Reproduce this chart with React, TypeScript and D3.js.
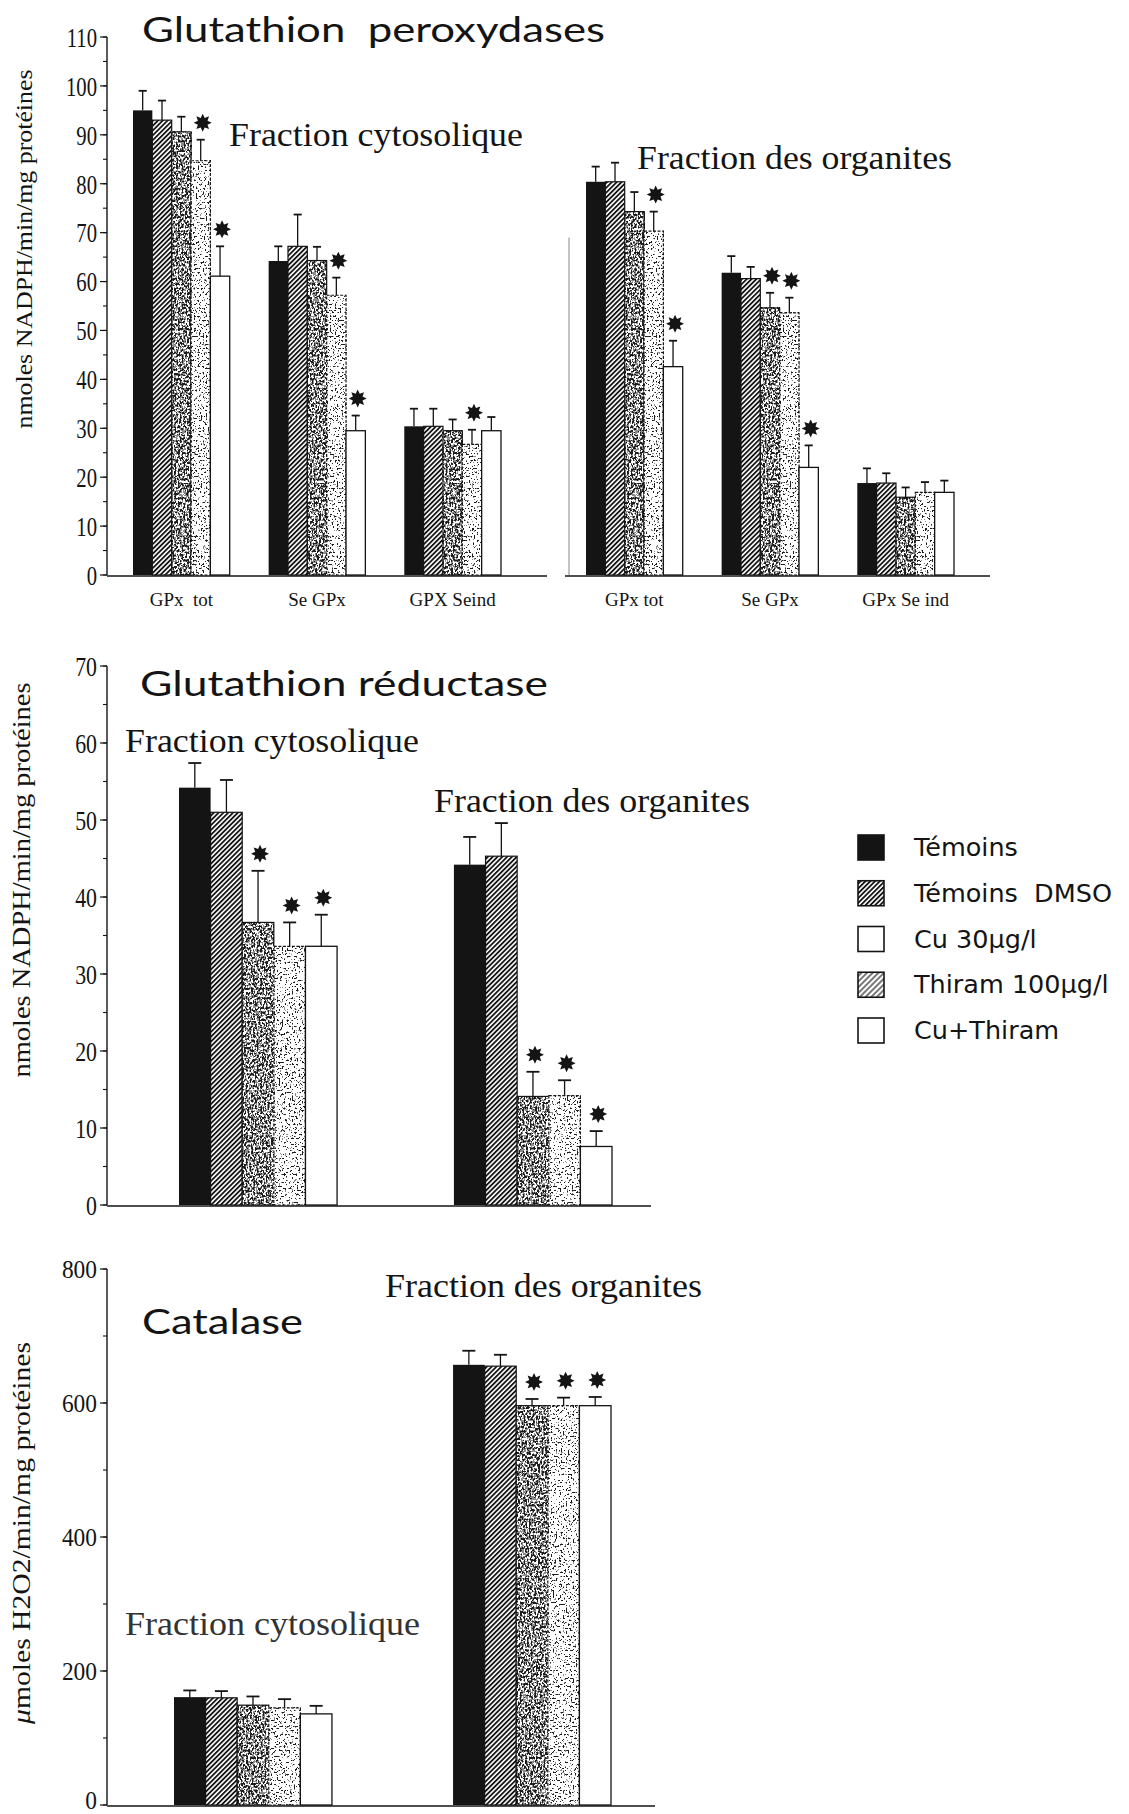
import React from "react";
import * as d3 from "d3";

// ---------- DATA ----------
const series = ["Témoins", "Témoins  DMSO", "Cu 30μg/l", "Thiram 100μg/l", "Cu+Thiram"];

// Glutathion peroxydases (nmoles NADPH/min/mg protéines)
const gpxCytoCats = ["GPx  tot", "Se GPx", "GPX Seind"];
const gpxOrgCats = ["GPx tot", "Se GPx", "GPx Se ind"];
const gpxCytoMean = [
  [95, 93, 90.6, 84.7, 61.1],
  [64.2, 67.2, 64.3, 57.2, 29.5],
  [30.4, 30.4, 29.5, 26.7, 29.5],
];
const gpxCytoErr = [
  [4, 4, 3.1, 4.3, 6.1],
  [3, 6.5, 2.8, 3.6, 3.1],
  [3.6, 3.6, 2.3, 3, 2.8],
];
const gpxCytoSig = [
  [0, 0, 0, 1, 1],
  [0, 0, 0, 1, 1],
  [0, 0, 0, 1, 0],
];
const gpxOrgMean = [
  [80.4, 80.4, 74.3, 70.3, 42.6],
  [61.8, 60.6, 54.6, 53.6, 22],
  [18.8, 18.8, 15.9, 16.9, 16.9],
];
const gpxOrgErr = [
  [3.1, 3.9, 4, 4, 5.3],
  [3.4, 2.4, 3.1, 3.1, 4.5],
  [3, 2, 2, 2.1, 2.4],
];
const gpxOrgSig = [
  [0, 0, 0, 1, 1],
  [0, 0, 1, 1, 1],
  [0, 0, 0, 0, 0],
];

// Glutathion réductase
const fractions = ["cyto", "org"];
const grMean = [
  [54.2, 51.0, 36.7, 33.6, 33.6],
  [44.2, 45.3, 14.1, 14.2, 7.6],
];
const grErr = [
  [3.2, 4.2, 6.7, 3.1, 4.1],
  [3.6, 4.3, 3.2, 2.0, 2.0],
];
const grSig = [
  [0, 0, 1, 1, 1],
  [0, 0, 1, 1, 1],
];

// Catalase (µmoles H2O2/min/mg protéines)
const catMean = [
  [161, 160, 149, 145, 136],
  [657, 655, 596, 596, 596],
];
const catErr = [
  [10, 10, 13, 13, 12],
  [21, 17, 10, 12, 13],
];
const catSig = [
  [0, 0, 0, 0, 0],
  [0, 0, 1, 1, 1],
];

// ---------- LAYOUT ----------
const W = 1129;
const H = 1814;
const AX = 107;
const SERIF = "'Liberation Serif', 'Times New Roman', serif";
const SANS = "Lato, 'Noto Sans', sans-serif";
const LEG = "'DejaVu Sans', sans-serif";
const INK = "#141414";

const starPath = (() => {
  const pts = d3.range(16).map((i) => [(i * Math.PI) / 8, i % 2 === 0 ? 9 : 5.2] as [number, number]);
  return d3.lineRadial().curve(d3.curveLinearClosed)(pts) as string;
})();

function tableValues(darkUntil: number, midAt: number, n = 20) {
  return d3
    .range(n)
    .map((i) => (i < darkUntil ? 0.12 : i < midAt ? 0.55 : 1))
    .join(" ");
}

function Defs() {
  const dense = tableValues(9, 11);
  const light = tableValues(7, 8);
  return (
    <defs>
      <pattern id="hatch" width="3.4" height="3.4" patternUnits="userSpaceOnUse" patternTransform="rotate(45)">
        <rect width="3.4" height="3.4" fill="white" />
        <line x1="0.9" y1="0" x2="0.9" y2="3.4" stroke={INK} strokeWidth="1.8" />
      </pattern>
      <pattern id="hatchLight" width="4" height="4" patternUnits="userSpaceOnUse" patternTransform="rotate(45)">
        <rect width="4" height="4" fill="white" />
        <line x1="1" y1="0" x2="1" y2="4" stroke="#555" strokeWidth="1.6" />
      </pattern>
      <filter id="speckDense" x="0" y="0" width="1" height="1" colorInterpolationFilters="sRGB">
        <feTurbulence type="fractalNoise" baseFrequency="0.55 0.42" numOctaves={2} seed={4} result="t" />
        <feColorMatrix in="t" type="matrix" values="1 0 0 0 0  1 0 0 0 0  1 0 0 0 0  0 0 0 0 1" result="g" />
        <feComponentTransfer in="g">
          <feFuncR type="discrete" tableValues={dense} />
          <feFuncG type="discrete" tableValues={dense} />
          <feFuncB type="discrete" tableValues={dense} />
        </feComponentTransfer>
      </filter>
      <filter id="speckLight" x="0" y="0" width="1" height="1" colorInterpolationFilters="sRGB">
        <feTurbulence type="fractalNoise" baseFrequency="0.6 0.5" numOctaves={2} seed={11} result="t" />
        <feColorMatrix in="t" type="matrix" values="1 0 0 0 0  1 0 0 0 0  1 0 0 0 0  0 0 0 0 1" result="g" />
        <feComponentTransfer in="g">
          <feFuncR type="discrete" tableValues={light} />
          <feFuncG type="discrete" tableValues={light} />
          <feFuncB type="discrete" tableValues={light} />
        </feComponentTransfer>
      </filter>
    </defs>
  );
}

function Bar({ x, y, w, h, s }: { x: number; y: number; w: number; h: number; s: number }) {
  if (s === 0) return <rect x={x} y={y} width={w} height={h} fill={INK} />;
  if (s === 1)
    return <rect x={x} y={y} width={w} height={h} fill="url(#hatch)" stroke={INK} strokeWidth={1.2} />;
  if (s === 2 || s === 3)
    return (
      <g>
        <rect x={x} y={y} width={w} height={h} fill="white" filter={`url(#${s === 2 ? "speckDense" : "speckLight"})`} />
        <rect x={x} y={y} width={w} height={h} fill="none" stroke={INK} strokeWidth={1.2} strokeDasharray={s === 3 ? "3 1.5" : undefined} />
      </g>
    );
  return <rect x={x} y={y} width={w} height={h} fill="white" stroke={INK} strokeWidth={1.3} />;
}

function Groups({
  cats,
  means,
  errs,
  sigs,
  range,
  pad,
  y,
}: {
  cats: string[];
  means: number[][];
  errs: number[][];
  sigs: number[][];
  range: [number, number];
  pad: number;
  y: d3.ScaleLinear<number, number>;
}) {
  const gx = d3.scaleBand<string>().domain(cats).range(range).paddingInner(pad).paddingOuter(0);
  const sx = d3.scaleBand<number>().domain(d3.range(series.length)).range([0, gx.bandwidth()]).padding(0);
  const bw = sx.bandwidth();
  const cap = Math.min(13, bw * 0.42);
  return (
    <g>
      {cats.map((c, gi) => (
        <g key={c + gi} transform={`translate(${gx(c)},0)`}>
          {means[gi].map((v, si) => {
            const x0 = sx(si) as number;
            const cx = x0 + bw / 2;
            const top = y(v);
            const et = y(v + errs[gi][si]);
            return (
              <g key={si}>
                <Bar x={x0} y={top} w={bw} h={y(0) - top} s={si} />
                <line x1={cx} x2={cx} y1={top} y2={et} stroke={INK} strokeWidth={1.3} />
                <line x1={cx - cap / 2} x2={cx + cap / 2} y1={et} y2={et} stroke={INK} strokeWidth={1.8} />
                {sigs[gi][si] ? <path d={starPath} transform={`translate(${cx + 2},${et - 17})`} fill={INK} /> : null}
              </g>
            );
          })}
        </g>
      ))}
    </g>
  );
}

function YAxis({
  y,
  major,
  minor,
  x0,
  x1,
  fs,
  sx,
  ldy = 0,
}: {
  y: d3.ScaleLinear<number, number>;
  major: number;
  minor: number;
  x0: number;
  x1: number;
  fs: number;
  sx: number;
  ldy?: number;
}) {
  const [d0, d1] = y.domain();
  return (
    <g>
      <line x1={AX} x2={AX} y1={y(d0)} y2={y(d1)} stroke={INK} strokeWidth={1.4} />
      <line x1={x0} x2={x1} y1={y(0) + 1} y2={y(0) + 1} stroke={INK} strokeWidth={1.6} />
      {y.ticks(minor).map((t) => (
        <line key={"m" + t} x1={AX - 4} x2={AX} y1={y(t)} y2={y(t)} stroke={INK} strokeWidth={1.1} />
      ))}
      {y.ticks(major).map((t) => (
        <g key={"M" + t}>
          <line x1={AX - 7} x2={AX} y1={y(t)} y2={y(t)} stroke={INK} strokeWidth={1.2} />
          <text
            transform={`translate(${AX - 10},${y(t) + (t === 0 ? ldy : 0)}) scale(${sx},1)`}
            dy="0.35em"
            textAnchor="end"
            fontFamily={SERIF}
            fontSize={fs}
            fill={INK}
          >
            {t}
          </text>
        </g>
      ))}
    </g>
  );
}

export default function App() {
  // Panel 1: Glutathion peroxydases
  const y1 = d3.scaleLinear().domain([0, 110]).range([575, 37]);
  const gxL = d3.scaleBand<string>().domain(gpxCytoCats).range([133, 501]).paddingInner(0.287);
  const gxR = d3.scaleBand<string>().domain(gpxOrgCats).range([586, 954]).paddingInner(0.287);
  // Panel 2: Glutathion réductase
  const y2 = d3.scaleLinear().domain([0, 70]).range([1205, 666]);
  // Panel 3: Catalase
  const y3 = d3.scaleLinear().domain([0, 800]).range([1805, 1269]);
  const legY = d3.scaleLinear().domain([0, series.length - 1]).range([847, 1030]);

  return (
    <svg
      width={W}
      height={H}
      viewBox={`0 0 ${W} ${H}`}
      style={{ position: "absolute", left: 0, top: 0, background: "white" }}
    >
      <Defs />
      <rect width={W} height={H} fill="white" />

      {/* ---------- Panel 1 ---------- */}
      <YAxis y={y1} major={11} minor={22} x0={AX} x1={547} fs={28} sx={0.74} />
      <line x1={565} x2={990} y1={y1(0) + 1} y2={y1(0) + 1} stroke={INK} strokeWidth={1.6} />
      <line x1={569} x2={569} y1={y1(69)} y2={y1(0)} stroke="#888" strokeWidth={1} />
      <Groups cats={gpxCytoCats} means={gpxCytoMean} errs={gpxCytoErr} sigs={gpxCytoSig} range={[133, 501]} pad={0.287} y={y1} />
      <Groups cats={gpxOrgCats} means={gpxOrgMean} errs={gpxOrgErr} sigs={gpxOrgSig} range={[586, 954]} pad={0.287} y={y1} />
      {gpxCytoCats.map((c) => (
        <text key={"l" + c} x={(gxL(c) as number) + gxL.bandwidth() / 2} y={606} textAnchor="middle" fontFamily={SERIF} fontSize={19} fill={INK} style={{ whiteSpace: "pre" }}>
          {c}
        </text>
      ))}
      {gpxOrgCats.map((c) => (
        <text key={"r" + c} x={(gxR(c) as number) + gxR.bandwidth() / 2} y={606} textAnchor="middle" fontFamily={SERIF} fontSize={19} fill={INK}>
          {c}
        </text>
      ))}
      <text x={142} y={42} fontFamily={SANS} fontSize={35} fill={INK} textLength={463} lengthAdjust="spacingAndGlyphs" style={{ whiteSpace: "pre" }}>
        Glutathion  peroxydases
      </text>
      <text x={229} y={146} fontFamily={SERIF} fontSize={33} fill={INK} textLength={294} lengthAdjust="spacingAndGlyphs">
        Fraction cytosolique
      </text>
      <text x={637} y={169} fontFamily={SERIF} fontSize={33} fill={INK} textLength={315} lengthAdjust="spacingAndGlyphs">
        Fraction des organites
      </text>
      <text transform="translate(32,249) rotate(-90)" textAnchor="middle" fontFamily={SERIF} fontSize={24} fill={INK} textLength={359} lengthAdjust="spacingAndGlyphs">
        nmoles NADPH/min/mg protéines
      </text>

      {/* ---------- Panel 2 ---------- */}
      <YAxis y={y2} major={7} minor={14} x0={AX} x1={651} fs={28} sx={0.78} />
      <Groups cats={fractions} means={grMean} errs={grErr} sigs={grSig} range={[179, 612]} pad={0.425} y={y2} />
      <text x={140} y={696} fontFamily={SANS} fontSize={35} fill={INK} textLength={408} lengthAdjust="spacingAndGlyphs">
        Glutathion réductase
      </text>
      <text x={125} y={752} fontFamily={SERIF} fontSize={33} fill={INK} textLength={294} lengthAdjust="spacingAndGlyphs">
        Fraction cytosolique
      </text>
      <text x={434} y={812} fontFamily={SERIF} fontSize={33} fill={INK} textLength={316} lengthAdjust="spacingAndGlyphs">
        Fraction des organites
      </text>
      <text transform="translate(30,880) rotate(-90)" textAnchor="middle" fontFamily={SERIF} fontSize={25} fill={INK} textLength={395} lengthAdjust="spacingAndGlyphs">
        nmoles NADPH/min/mg protéines
      </text>

      {/* Legend */}
      {series.map((s, i) => {
        const cy = legY(i);
        const fill = i === 0 ? INK : i === 1 ? "url(#hatch)" : i === 3 ? "url(#hatchLight)" : "white";
        return (
          <g key={s}>
            <rect x={858} y={cy - 12} width={26} height={25} fill={fill} stroke={INK} strokeWidth={1.6} />
            <text x={914} y={cy} dy="0.36em" fontFamily={LEG} fontSize={25.5} fill={INK} style={{ whiteSpace: "pre" }}>
              {s}
            </text>
          </g>
        );
      })}

      {/* ---------- Panel 3 ---------- */}
      <YAxis y={y3} major={4} minor={8} x0={AX} x1={655} fs={26} sx={0.9} ldy={-5} />
      <Groups cats={fractions} means={catMean} errs={catErr} sigs={catSig} range={[174, 611]} pad={0.434} y={y3} />
      <text x={142} y={1334} fontFamily={SANS} fontSize={35} fill={INK} textLength={161} lengthAdjust="spacingAndGlyphs">
        Catalase
      </text>
      <text x={385} y={1297} fontFamily={SERIF} fontSize={33} fill={INK} textLength={317} lengthAdjust="spacingAndGlyphs">
        Fraction des organites
      </text>
      <text x={125} y={1635} fontFamily={SERIF} fontSize={33} fill="#333" textLength={295} lengthAdjust="spacingAndGlyphs">
        Fraction cytosolique
      </text>
      <text transform="translate(30,1533) rotate(-90)" textAnchor="middle" fontFamily={SERIF} fontSize={25} fill={INK} textLength={382} lengthAdjust="spacingAndGlyphs">
        <tspan fontStyle="italic">μ</tspan>moles H2O2/min/mg protéines
      </text>
    </svg>
  );
}
